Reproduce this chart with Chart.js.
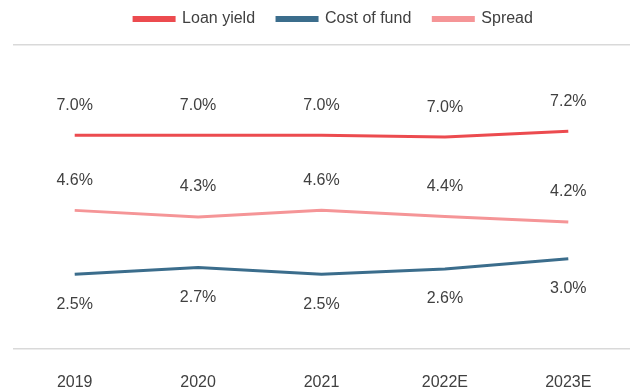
<!DOCTYPE html>
<html>
<head>
<meta charset="utf-8">
<script src="https://cdn.jsdelivr.net/npm/chart.js@4"></script>
<style>
  html, body { margin: 0; padding: 0; background: #fff; }
  #wrap { width: 637px; height: 391px; }
</style>
</head>
<body>
<div id="wrap"><canvas id="yield-chart"></canvas></div>
<script>
// категории и значения (в %)
const years = ["2019", "2020", "2021", "2022E", "2023E"];
const loanYield = [7.03, 7.03, 7.03, 6.97, 7.16];
const costOfFund = [2.46, 2.68, 2.46, 2.63, 2.97];
const spread = [4.56, 4.34, 4.56, 4.36, 4.18];

const FONT = "'Liberation Sans', Arial, sans-serif";

// подписи над/под точками
const pointLabels = {
  id: "pointLabels",
  afterDatasetsDraw(chart) {
    const c = chart.ctx;
    c.save();
    c.font = "16px " + FONT;
    c.fillStyle = "#404040";
    c.textAlign = "center";
    c.textBaseline = "middle";
    chart.data.datasets.forEach((ds, i) => {
      const meta = chart.getDatasetMeta(i);
      meta.data.forEach((pt, j) => {
        const dy = ds.labelPos === "below" ? 30 : -30;
        c.fillText(ds.data[j].toFixed(1) + "%", pt.x, pt.y + dy);
      });
    });
    c.restore();
  },
};

// высота легенды + небольшой сдвиг вправо/вниз
const legendTweak = {
  id: "legendTweak",
  beforeInit(chart) {
    const lg = chart.legend;
    const fit = lg.fit;
    lg.fit = function () {
      fit.bind(lg)();
      this.height = 58;
    };
    const draw = lg.draw;
    lg.draw = function () {
      const c = chart.ctx;
      c.save();
      c.translate(12, 2);
      draw.bind(lg)();
      c.restore();
    };
  },
};

const ctx = document.getElementById("yield-chart").getContext("2d");
const yieldChart = new Chart(ctx, {
  type: "line",
  data: {
    labels: years,
    datasets: [
      {
        label: "Loan yield",
        data: loanYield,
        borderColor: "#EC4B4F",
        backgroundColor: "#EC4B4F",
        borderWidth: 3,
        pointRadius: 0,
        labelPos: "above",
      },
      {
        label: "Cost of fund",
        data: costOfFund,
        borderColor: "#3B6D8C",
        backgroundColor: "#3B6D8C",
        borderWidth: 3,
        pointRadius: 0,
        labelPos: "below",
      },
      {
        label: "Spread",
        data: spread,
        borderColor: "#F59597",
        backgroundColor: "#F59597",
        borderWidth: 3,
        pointRadius: 0,
        labelPos: "above",
      },
    ],
  },
  options: {
    responsive: true,
    maintainAspectRatio: false,
    animation: false,
    layout: { padding: { left: 13, right: 7, top: -13, bottom: 0 } },
    plugins: {
      legend: {
        position: "top",
        labels: {
          boxWidth: 40,
          boxHeight: 3,
          color: "#404040",
          font: { family: FONT, size: 16 },
          padding: 22,
        },
      },
      tooltip: { enabled: false },
    },
    scales: {
      x: {
        offset: true,
        grid: { display: false, drawTicks: false },
        border: { display: false },
        ticks: {
          color: "#404040",
          padding: 24,
          font: { family: FONT, size: 16 },
        },
        afterFit(scale) {
          scale.height = 42;
        },
      },
      y: {
        min: 0,
        max: 10,
        ticks: { display: false, stepSize: 10 },
        grid: { color: "#D9D9D9", lineWidth: 1.5, drawTicks: false },
        border: { display: false },
      },
    },
  },
  plugins: [pointLabels, legendTweak],
});
</script>
</body>
</html>
